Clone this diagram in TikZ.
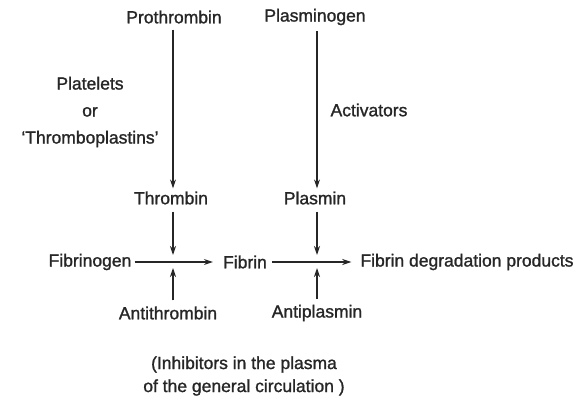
\documentclass[tikz,border=0pt]{standalone}
\usepackage{fontspec}
\setmainfont{Liberation Sans}
\newfontfamily\diagfont{Liberation Sans}[Ligatures=TeX, FakeBold=1.2]
\usepackage{xcolor}
\definecolor{inkgray}{RGB}{38,38,38}
\usetikzlibrary{arrows.meta,positioning}

\begin{document}
\begin{tikzpicture}[
  x=1pt, y=-1pt,
  lbl/.style={font=\diagfont\fontsize{17.5}{23}\selectfont, text=inkgray, inner sep=0pt, align=center},
  arr/.style={draw=inkgray, line width=1.2pt, -{Stealth[length=9pt,width=6pt]}}
]
  \fill[white] (0,0) rectangle (587,401);
  \useasboundingbox (0,0) rectangle (587,401);

  %% Junctions on the fibrin line
  \coordinate (j1) at (173,262);
  \coordinate (j2) at (317,262);

  %% Coagulation column
  \node[lbl] (prothrombin) at (174,17) {Prothrombin};
  \node[lbl] (thrombin)    at (171,198) {Thrombin};
  \node[lbl, font=\diagfont\fontsize{17.5}{27}\selectfont] (platelets) at (90,112) {Platelets\\or\\`Thromboplastins'};

  %% Fibrinolytic column
  \node[lbl] (plasminogen) at (315,17) {Plasminogen};
  \node[lbl] (plasmin)     at (315,198) {Plasmin};
  \node[lbl] (activators)  at (369,110) {Activators};

  %% Fibrin row
  \node[lbl] (fibrinogen) at (90,262) {Fibrinogen};
  \node[lbl] (fibrin)     at (245,262) {Fibrin};
  \node[lbl] (fdp)        at (467,262) {Fibrin degradation products};

  %% Inhibitors
  \node[lbl] (antithrombin) at (168,313) {Antithrombin};
  \node[lbl] (antiplasmin)  at (317,313) {Antiplasmin};
  \node[lbl] (inhibitors)   at (244,376) {(Inhibitors in the plasma\\of the general circulation )};

  %% Arrows
  \draw[arr, shorten <=6pt, shorten >=3pt] (prothrombin.south -| j1) -- (thrombin.north -| j1);
  \draw[arr, shorten <=6pt, shorten >=3pt] (plasminogen.south -| j2) -- (plasmin.north -| j2);
  \draw[arr, shorten <=7pt, shorten >=7pt] (thrombin.south -| j1) -- (j1);
  \draw[arr, shorten <=7pt, shorten >=7pt] (plasmin.south -| j2) -- (j2);
  \draw[arr, shorten <=6pt, shorten >=6pt] (antithrombin.north -| j1) -- (j1);
  \draw[arr, shorten <=6pt, shorten >=6pt] (antiplasmin.north -| j2) -- (j2);
  \draw[arr, shorten <=3pt, shorten >=10pt] (fibrinogen) -- (fibrin);
  \draw[arr, shorten <=5pt, shorten >=9pt] (fibrin) -- (fdp);
\end{tikzpicture}
\end{document}
